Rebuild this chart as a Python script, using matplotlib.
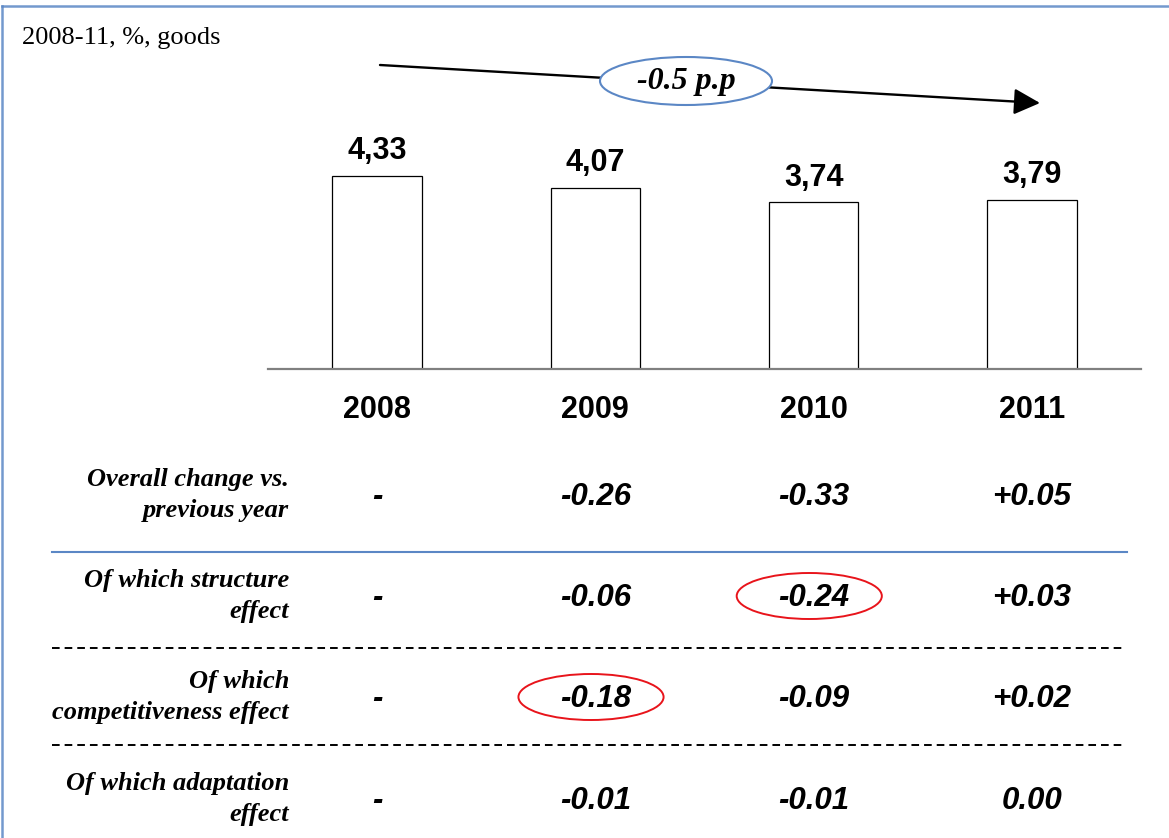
import matplotlib
matplotlib.use("Agg")
import matplotlib.pyplot as plt
from matplotlib.patches import Ellipse, FancyArrowPatch
from matplotlib.lines import Line2D
from matplotlib.transforms import blended_transform_factory

# ---- data -------------------------------------------------------------
years = ["2008", "2009", "2010", "2011"]
shares = [4.33, 4.07, 3.74, 3.79]

row_labels = [
    "Overall change vs.\nprevious year",
    "Of which structure\neffect",
    "Of which\ncompetitiveness effect",
    "Of which adaptation\neffect",
]
overall = [None, -0.26, -0.33, 0.05]
structure = [None, -0.06, -0.24, 0.03]
competitiveness = [None, -0.18, -0.09, 0.02]
adaptation = [None, -0.01, -0.01, 0.00]
rows = [overall, structure, competitiveness, adaptation]

# (row, column) cells circled in red
highlights = [(1, 2), (2, 1)]

title = "2008-11, %, goods"

# ---- styling ----------------------------------------------------------
plt.rcParams["lines.scale_dashes"] = False
SERIF = "Liberation Serif"
SANS = "Liberation Sans"
BLUE = "#5b87c5"

W, H = 1169, 838
fig = plt.figure(figsize=(W / 100, H / 100), dpi=100)

# overlay axes in pixel coordinates (origin top-left)
ov = fig.add_axes([0, 0, 1, 1], zorder=0)
ov.set_xlim(0, W)
ov.set_ylim(H, 0)
ov.axis("off")

# bar chart axes
ymax = 5.6
px_per_unit = 44.57
ax_left, ax_right, base_y = 268, 1141, 369
ax_h = ymax * px_per_unit
ax = fig.add_axes([ax_left / W, (H - base_y) / H, (ax_right - ax_left) / W, ax_h / H],
                  zorder=1)
ax.patch.set_alpha(0)

x = list(range(len(years)))
bars = ax.bar(x, shares, width=0.41, color="white", edgecolor="black", linewidth=0.9)
ax.set_xlim(-0.5, len(years) - 0.5)
ax.set_ylim(0, ymax)
for s in ["top", "right", "left"]:
    ax.spines[s].set_visible(False)
ax.spines["bottom"].set_color("#808080")
ax.spines["bottom"].set_linewidth(1.6)
ax.set_yticks([])
ax.set_xticks(x)
ax.set_xticklabels(years, fontfamily=SANS, fontweight="bold", fontsize=22)
ax.tick_params(axis="x", length=0, pad=19)

for xi, v in zip(x, shares):
    ax.annotate(f"{v:.2f}".replace(".", ","), (xi, v), xytext=(0, 7),
                textcoords="offset points", ha="center", va="bottom",
                fontfamily=SANS, fontweight="bold", fontsize=22)

# ---- title and frame ---------------------------------------------------
ov.text(22, 38, title, fontfamily=SERIF, fontsize=19, ha="left", va="center")
ov.add_line(Line2D([2, W], [6, 6], color=BLUE, lw=1.8, alpha=0.85))
ov.add_line(Line2D([2, 2], [6, H], color=BLUE, lw=1.8, alpha=0.85))

# ---- overall trend arrow ----------------------------------------------
arrow = FancyArrowPatch((380, 65), (1040, 103),
                        arrowstyle="-|>,head_length=0.8,head_width=0.4",
                        mutation_scale=20, color="black", lw=1.7,
                        shrinkA=0, shrinkB=0)
ov.add_patch(arrow)
ov.add_patch(Ellipse((686, 81), 172, 48, facecolor="white", edgecolor=BLUE,
                     lw=1.5, zorder=3))
total = shares[-1] - shares[0]
ov.text(686, 82, f"{total:.1f} p.p", fontfamily=SERIF, fontweight="bold",
        fontstyle="italic", fontsize=23, ha="center", va="center", zorder=4)

# ---- decomposition table ----------------------------------------------
col_tr = blended_transform_factory(ax.transData, ov.transData)
row_y = [495, 596, 697, 799]


def fmt(v):
    if v is None:
        return "-"
    if v == 0:
        return f"{v:.2f}"
    return f"{v:+.2f}"


for r, (label, vals, yy) in enumerate(zip(row_labels, rows, row_y)):
    ov.text(289, yy, label, fontfamily=SERIF, fontweight="bold",
            fontstyle="italic", fontsize=19, ha="right", va="center",
            linespacing=1.42)
    for c, v in enumerate(vals):
        ov.text(c, yy + 2, fmt(v), transform=col_tr, fontfamily=SANS,
                fontweight="bold", fontstyle="italic", fontsize=22.5,
                ha="center", va="center")

for r, c in highlights:
    ov.add_patch(Ellipse((c - 0.02, row_y[r]), 0.665, 46, transform=col_tr,
                         facecolor="none", edgecolor="#e8141b", lw=1.4))

# separators between rows
ov.add_line(Line2D([52, 1127], [552, 552], color=BLUE, lw=1.5))
for yy in [648, 745]:
    ov.add_line(Line2D([52, 1122], [yy, yy], color="black", lw=1.4,
                       linestyle=(0, (5.5, 3.6))))

fig.savefig("out.png", dpi=100)
